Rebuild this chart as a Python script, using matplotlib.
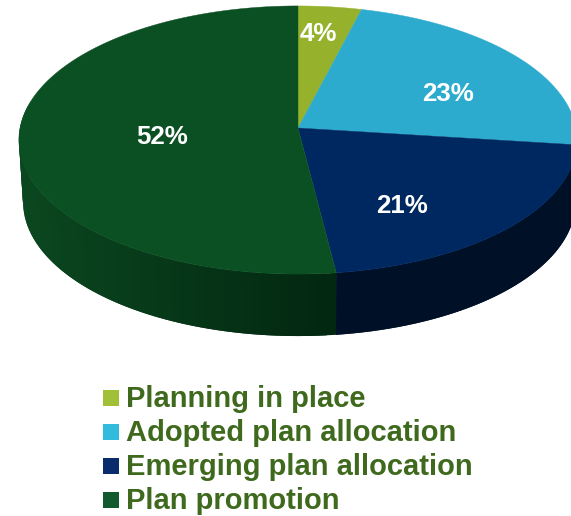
import numpy as np
import matplotlib
matplotlib.use('Agg')
import matplotlib.pyplot as plt
from matplotlib.patches import Rectangle

plt.rcParams['font.family'] = ['Liberation Sans', 'DejaVu Sans']

# Share of each stage, in percent
categories = ['Planning in place', 'Adopted plan allocation',
              'Emerging plan allocation', 'Plan promotion']
shares = [4, 23, 21, 52]

top_colors = ['#96B22D', '#2CABCE', '#002860', '#0B5023']
swatch_colors = ['#A2C037', '#33BBDD', '#0A2C6C', '#125A2D']
text_green = '#3F6A1E'

# Side wall colours, left end and right end of the shading ramp
side_left = ['#5F7318', '#1B7088', '#001027', '#0B4A21']
side_right = ['#5F7318', '#1B7088', '#001027', '#032811']

# Pie geometry, in pixels
cx, cy = 298, 128
rx, ry = 278, 133
tilt = 0.0896   # how much the far edge shrinks
depth = 62

label_pos = [(318, 34), (448, 94), (402, 206), (162, 137)]
legend_y = [398, 432, 466, 500]


def project(theta):
    # theta runs clockwise from 12 o'clock
    x = np.sin(theta)
    y = np.cos(theta)
    w = 1 + tilt * y
    return rx * x / w, ry * y / w


def blend(c1, c2, t):
    a = np.array(matplotlib.colors.to_rgb(c1))
    b = np.array(matplotlib.colors.to_rgb(c2))
    return tuple(a + (b - a) * t)


fig = plt.figure(figsize=(5.71, 5.16), dpi=100)
ax = fig.add_axes([0, 0, 1, 1])
ax.set_xlim(0, 571)
ax.set_ylim(516, 0)
ax.axis('off')

edges = np.radians(np.cumsum([0] + shares) * 3.6)

# Side walls first, cut in strips so the shading can vary along the rim.
# Each strip runs over the next one's span, which hides the seams.
for i in range(len(shares)):
    t = np.linspace(edges[i], edges[i + 1], shares[i] * 2 + 2)
    px, py = project(t)
    base_x = np.where(px < 0, px * 0.985, px * 0.995)
    for j in range(len(t) - 1):
        if np.cos(t[j]) > 0.15:
            continue
        k = min(j + 2, len(t) - 1)
        xs = [cx + px[j], cx + px[k], cx + base_x[k], cx + base_x[j]]
        ys = [cy - py[j], cy - py[k], cy - py[k] + depth, cy - py[j] + depth]
        shade = np.clip((cx + px[j]) / 337, 0, 1)
        c = blend(side_left[i], side_right[i], shade)
        order = 2 + 0.001 * j if i == 2 else 2 - 0.001 * j
        ax.fill(xs, ys, color=c, lw=0, zorder=order)

# Top face
for i in range(len(shares)):
    t = np.linspace(edges[i], edges[i + 1], 200)
    px, py = project(t)
    xs = np.concatenate([[cx], cx + px])
    ys = np.concatenate([[cy], cy - py])
    ax.fill(xs, ys, color=top_colors[i], lw=0.3, zorder=3)

for s, (lx, ly) in zip(shares, label_pos):
    ax.text(lx, ly, f'{s}%', color='white', fontsize=18.6, fontweight='bold',
            ha='center', va='center', zorder=5)

# Legend below the pie
for name, col, ly in zip(categories, swatch_colors, legend_y):
    ax.add_patch(Rectangle((103, ly - 8), 16, 16, color=col, lw=0, zorder=5))
    ax.text(126, ly + 1, name, color=text_green, fontsize=21, fontweight='bold',
            ha='left', va='center', zorder=5)

fig.savefig('out.png', dpi=100)
